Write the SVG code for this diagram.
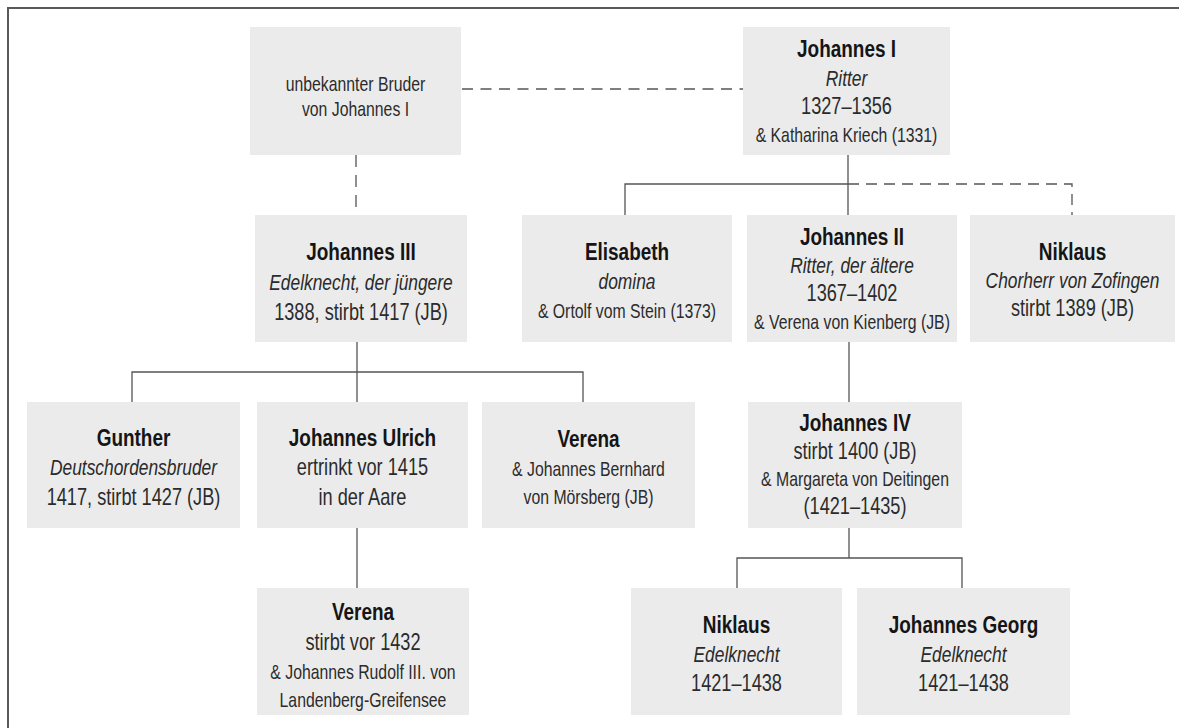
<svg xmlns="http://www.w3.org/2000/svg" width="1179" height="728" viewBox="0 0 1179 728">
<style>
.box{fill:#ebebeb}
.frame{fill:none;stroke:#5a5a5a;stroke-width:2}
.ln{fill:none;stroke:#555;stroke-width:1.3}
.dash{fill:none;stroke:#555;stroke-width:1.3;stroke-dasharray:11 7.5}
text{font-family:"Liberation Sans",Arial,sans-serif;text-anchor:middle;fill:#2b2b2b}
.b{font-weight:bold;font-size:24px;fill:#151515}
.r{font-size:23px}
.i{font-style:italic;font-size:22px}
.s{font-size:20px}
</style>
<rect width="1179" height="728" fill="#ffffff"/>
<path class="frame" d="M8 728V8H1179"/>
<g id="connectors">
<path class="dash" d="M462 89H743"/>
<path class="dash" d="M356 155V215" style="stroke-dasharray:12 8"/>
<path class="ln" d="M848 155V215M625 215V184H848"/>
<path class="dash" d="M848 184H1072V215" style="stroke-dasharray:11 7"/>
<path class="ln" d="M357 342V402M132 402V372H583V402"/>
<path class="ln" d="M849 342V402"/>
<path class="ln" d="M357 528V588"/>
<path class="ln" d="M849 528V558M737 588V558H962V588"/>
</g>
<g id="n-bruder">
<rect class="box" x="250" y="27" width="211" height="128"/>
<g transform="translate(355.5 0) scale(0.79 1)">
<text class="s" x="0" y="91">unbekannter Bruder</text>
<text class="s" x="0" y="116">von Johannes I</text>
</g>
</g>
<g id="n-johannes1">
<rect class="box" x="743" y="27" width="207" height="128"/>
<g transform="translate(846.5 0) scale(0.79 1)">
<text class="b" x="0" y="57">Johannes I</text>
<text class="i" x="0" y="86">Ritter</text>
<text class="r" x="0" y="114">1327–1356</text>
<text class="s" x="0" y="142">&amp; Katharina Kriech (1331)</text>
</g>
</g>
<g id="n-johannes3">
<rect class="box" x="255" y="215" width="212" height="127"/>
<g transform="translate(361 0) scale(0.79 1)">
<text class="b" x="0" y="260">Johannes III</text>
<text class="i" x="0" y="290">Edelknecht, der jüngere</text>
<text class="r" x="0" y="320">1388, stirbt 1417 (JB)</text>
</g>
</g>
<g id="n-elisabeth">
<rect class="box" x="522" y="215" width="210" height="127"/>
<g transform="translate(627 0) scale(0.79 1)">
<text class="b" x="0" y="260">Elisabeth</text>
<text class="i" x="0" y="289">domina</text>
<text class="s" x="0" y="318">&amp; Ortolf vom Stein (1373)</text>
</g>
</g>
<g id="n-johannes2">
<rect class="box" x="747" y="215" width="210" height="127"/>
<g transform="translate(852 0) scale(0.79 1)">
<text class="b" x="0" y="245">Johannes II</text>
<text class="i" x="0" y="273">Ritter, der ältere</text>
<text class="r" x="0" y="301">1367–1402</text>
<text class="s" x="0" y="329">&amp; Verena von Kienberg (JB)</text>
</g>
</g>
<g id="n-niklaus1">
<rect class="box" x="970" y="215" width="205" height="127"/>
<g transform="translate(1072.5 0) scale(0.79 1)">
<text class="b" x="0" y="260">Niklaus</text>
<text class="i" x="0" y="288">Chorherr von Zofingen</text>
<text class="r" x="0" y="316">stirbt 1389 (JB)</text>
</g>
</g>
<g id="n-gunther">
<rect class="box" x="27" y="402" width="213" height="126"/>
<g transform="translate(133.5 0) scale(0.79 1)">
<text class="b" x="0" y="446">Gunther</text>
<text class="i" x="0" y="475">Deutschordensbruder</text>
<text class="r" x="0" y="505">1417, stirbt 1427 (JB)</text>
</g>
</g>
<g id="n-ulrich">
<rect class="box" x="257" y="402" width="211" height="126"/>
<g transform="translate(362.5 0) scale(0.79 1)">
<text class="b" x="0" y="446">Johannes Ulrich</text>
<text class="r" x="0" y="475">ertrinkt vor 1415</text>
<text class="r" x="0" y="505">in der Aare</text>
</g>
</g>
<g id="n-verena1">
<rect class="box" x="482" y="402" width="213" height="126"/>
<g transform="translate(588.5 0) scale(0.79 1)">
<text class="b" x="0" y="447">Verena</text>
<text class="s" x="0" y="476">&amp; Johannes Bernhard</text>
<text class="s" x="0" y="504">von Mörsberg (JB)</text>
</g>
</g>
<g id="n-johannes4">
<rect class="box" x="748" y="402" width="214" height="126"/>
<g transform="translate(855 0) scale(0.79 1)">
<text class="b" x="0" y="431">Johannes IV</text>
<text class="r" x="0" y="459">stirbt 1400 (JB)</text>
<text class="s" x="0" y="486">&amp; Margareta von Deitingen</text>
<text class="r" x="0" y="514">(1421–1435)</text>
</g>
</g>
<g id="n-verena2">
<rect class="box" x="257" y="588" width="212" height="127"/>
<g transform="translate(363 0) scale(0.79 1)">
<text class="b" x="0" y="620">Verena</text>
<text class="r" x="0" y="650">stirbt vor 1432</text>
<text class="s" x="0" y="679">&amp; Johannes Rudolf III. von</text>
<text class="s" x="0" y="707">Landenberg-Greifensee</text>
</g>
</g>
<g id="n-niklaus2">
<rect class="box" x="631" y="588" width="211" height="127"/>
<g transform="translate(736.5 0) scale(0.79 1)">
<text class="b" x="0" y="633">Niklaus</text>
<text class="i" x="0" y="662">Edelknecht</text>
<text class="r" x="0" y="691">1421–1438</text>
</g>
</g>
<g id="n-georg">
<rect class="box" x="857" y="588" width="213" height="127"/>
<g transform="translate(963.5 0) scale(0.79 1)">
<text class="b" x="0" y="633">Johannes Georg</text>
<text class="i" x="0" y="662">Edelknecht</text>
<text class="r" x="0" y="691">1421–1438</text>
</g>
</g>
</svg>
